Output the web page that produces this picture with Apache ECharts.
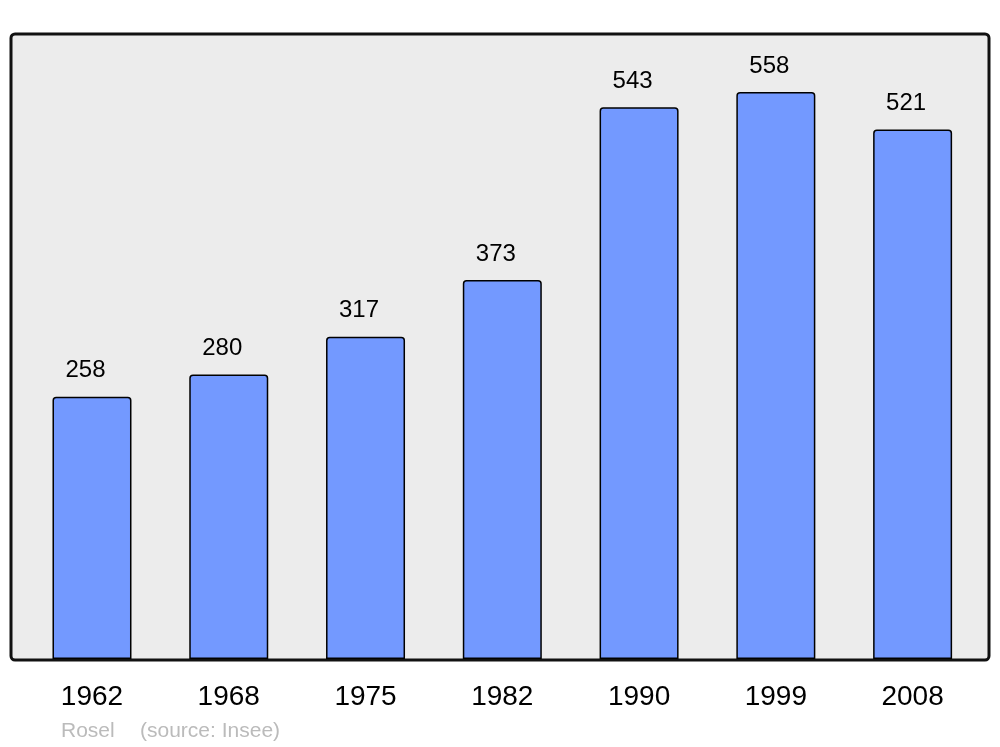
<!DOCTYPE html>
<html>
<head>
<meta charset="utf-8">
<script src="https://cdn.jsdelivr.net/npm/echarts@6/dist/echarts.min.js"></script>
<style>
  html, body { margin: 0; padding: 0; background: #fff; }
  #chart { width: 1000px; height: 747px; }
</style>
</head>
<body>
<div id="chart"></div>
<script>
var years = ['1962', '1968', '1975', '1982', '1990', '1999', '2008'];
var population = [258, 280, 317, 373, 543, 558, 521];
var commune = 'Rosel';
var source = '(source: Insee)';

var chart = echarts.init(document.getElementById('chart'));
var font = '"Liberation Sans", Arial, sans-serif';

chart.setOption({
  animation: false,
  graphic: [
    {
      // plot frame
      type: 'rect',
      z: -1,
      shape: { x: 11, y: 34, width: 978, height: 626, r: 4 },
      style: { fill: '#ececec', stroke: '#111', lineWidth: 3 }
    },
    {
      type: 'text',
      left: 61, top: 721,
      style: { text: commune, fill: '#bbbbbb', font: '21px ' + font }
    },
    {
      type: 'text',
      left: 140, top: 721,
      style: { text: source, fill: '#bbbbbb', font: '21px ' + font }
    }
  ],
  grid: { left: 23.6, right: 19, top: 34, bottom: 88 },
  xAxis: {
    type: 'category',
    data: years,
    axisLine: { show: false },
    axisTick: { show: false },
    axisLabel: { color: '#000', fontSize: 28, fontFamily: font, margin: 24 }
  },
  yAxis: {
    type: 'value',
    min: 0,
    max: 615,
    show: false,
    splitLine: { show: false }
  },
  series: [{
    type: 'bar',
    data: population,
    barWidth: 79,
    itemStyle: {
      color: '#7399ff',
      borderColor: '#000',
      borderWidth: 1.5,
      borderRadius: [3, 3, 0, 0]
    },
    label: {
      show: true,
      position: 'top',
      distance: 14,
      offset: [-6.5, 0],
      color: '#000',
      fontSize: 24,
      fontFamily: font
    }
  }]
});
</script>
</body>
</html>
